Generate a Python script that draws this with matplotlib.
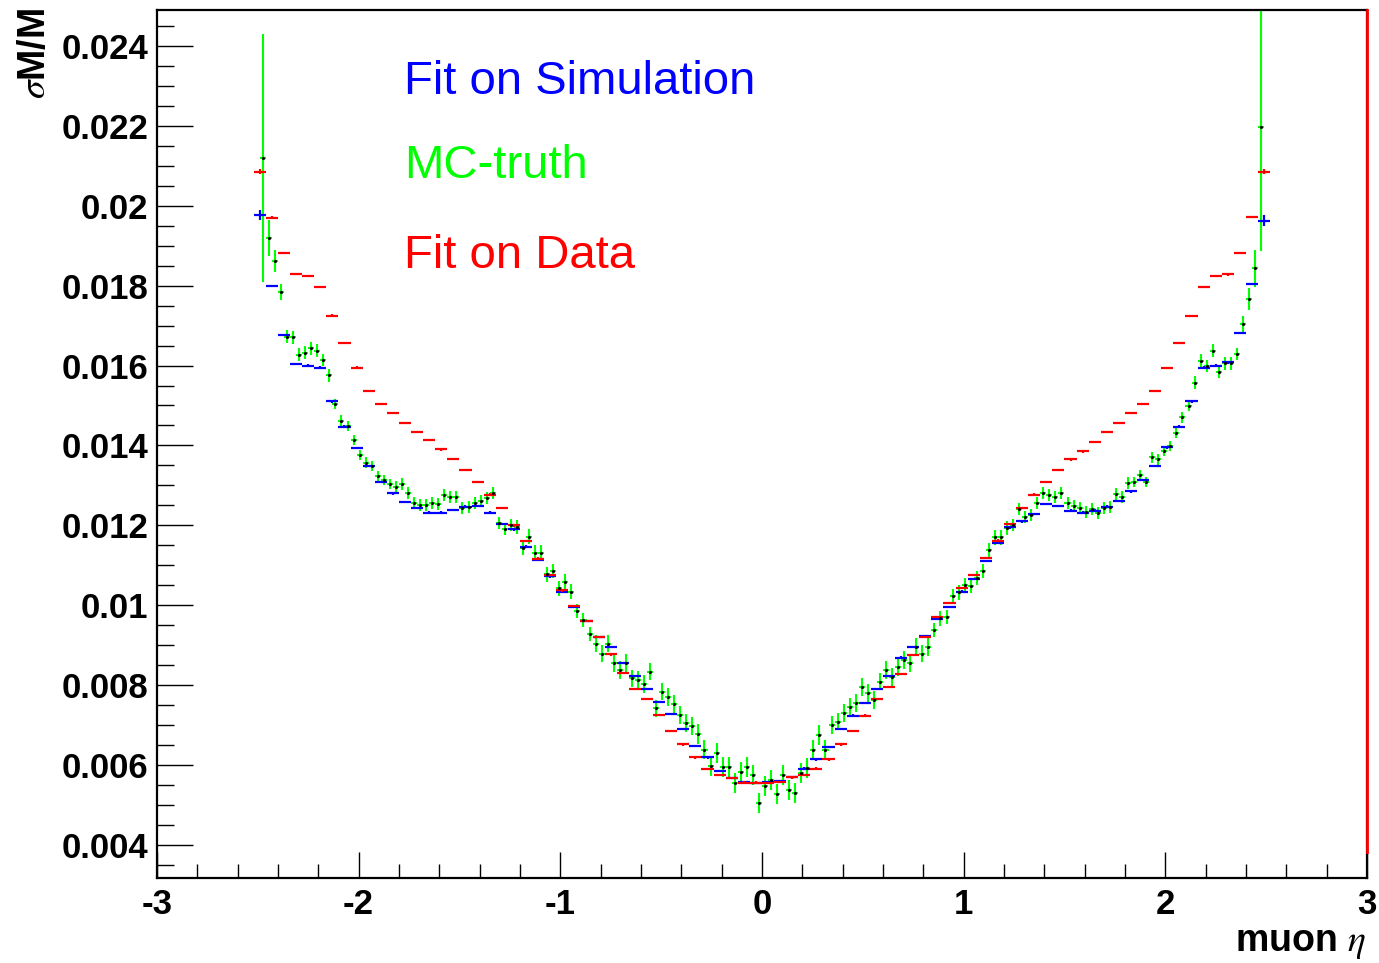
import numpy as np
import matplotlib.pyplot as plt
from matplotlib.ticker import MultipleLocator, FormatStrFormatter

plt.rcParams['font.family'] = ['Liberation Sans', 'DejaVu Sans']
plt.rcParams['mathtext.fontset'] = 'stix'
plt.rcParams['axes.unicode_minus'] = False

# coarse binning (84 bins, -2.52..2.52)
coarse_edges = np.linspace(-2.52, 2.52, 85)
# fit on data (red)
data_fit = [0.02085, 0.0197, 0.01881, 0.01829, 0.01824, 0.01796, 0.01725, 0.01657, 0.01595, 0.01537,
            0.01504, 0.01481, 0.01456, 0.01433, 0.01414, 0.0139, 0.01366, 0.01338, 0.01308, 0.01277,
            0.01243, 0.0120, 0.01161, 0.01117, 0.01076, 0.01037, 0.00998, 0.0096, 0.00921, 0.00877,
            0.0083, 0.0079, 0.00766, 0.00725, 0.00686, 0.00652, 0.00619, 0.0059, 0.00575, 0.00568,
            0.00556, 0.00556,
            0.00555, 0.00558, 0.00569, 0.00575, 0.00591, 0.00614, 0.00652, 0.00686, 0.00724, 0.00765,
            0.00795, 0.00828, 0.00876, 0.0092, 0.0097, 0.01005, 0.01043, 0.01076, 0.01119, 0.01162,
            0.01204, 0.01243, 0.01277, 0.01309, 0.01338, 0.01365, 0.01385, 0.01409, 0.01433, 0.01456,
            0.01481, 0.01504, 0.01537, 0.01594, 0.01656, 0.01724, 0.01796, 0.01824, 0.01828, 0.01881,
            0.01971, 0.02085]
data_err = [0.00006] + [0.00003] * 82 + [0.00006]
# fit on simulation (blue)
sim_fit = [0.01976, 0.01799, 0.01677, 0.01604, 0.016, 0.01595, 0.0151, 0.01447, 0.01394, 0.01349,
           0.01309, 0.0128, 0.01259, 0.01243, 0.01232, 0.01232, 0.01238, 0.01247, 0.01249, 0.01232,
           0.01204, 0.0119, 0.01147, 0.01113, 0.01072, 0.01034, 0.00996, 0.00961, 0.00921, 0.00896,
           0.00856, 0.00823, 0.0079, 0.00758, 0.00728, 0.0069, 0.00648, 0.00619, 0.00585, 0.00568,
           0.00557, 0.00555,
           0.00557, 0.0056, 0.00569, 0.00591, 0.00614, 0.00646, 0.0069, 0.00724, 0.00756, 0.0079,
           0.00823, 0.00869, 0.00896, 0.00923, 0.00965, 0.00995, 0.01034, 0.01066, 0.01111, 0.01157,
           0.01195, 0.0121, 0.01229, 0.01254, 0.01249, 0.01237, 0.01232, 0.01237, 0.01247, 0.01261,
           0.01285, 0.01314, 0.01349, 0.01395, 0.01447, 0.0151, 0.01595, 0.016, 0.01608, 0.01681,
           0.01804, 0.01962]
sim_err = [0.00013] + [0.00003] * 82 + [0.00014]

# fine binning (166 bins, -2.49..2.49): MC truth (green)
fine_edges = np.linspace(-2.49, 2.49, 167)
mc_left = [0.02119, 0.01919, 0.01862, 0.01785, 0.01672, 0.01671, 0.01627, 0.01632, 0.01643, 0.01637,
           0.01614, 0.01576, 0.01504, 0.01462, 0.01449, 0.01414, 0.01376, 0.01357, 0.01349, 0.01324,
           0.01314, 0.01304, 0.01295, 0.01304, 0.0128, 0.01255, 0.01251, 0.01251, 0.01257, 0.01254,
           0.01276, 0.01272, 0.0127, 0.01243, 0.01247, 0.01257, 0.01262, 0.01268, 0.01282, 0.01205,
           0.0119, 0.01201, 0.01196, 0.01143, 0.01172, 0.01132, 0.01132, 0.01077, 0.01086, 0.01042,
           0.01059, 0.01034, 0.00986, 0.00963, 0.00928, 0.00904, 0.00879, 0.00904, 0.00856, 0.00838,
           0.00856, 0.00817, 0.00813, 0.00803, 0.00834, 0.00742, 0.00784, 0.0077, 0.00753, 0.00725,
           0.00706, 0.00698, 0.00678, 0.00639, 0.00598, 0.00631, 0.00596, 0.00594, 0.00556, 0.00583,
           0.00596, 0.00575, 0.00504]
mc_right = [0.00548, 0.00563, 0.00528, 0.00575, 0.00538, 0.00529, 0.00579, 0.00592, 0.00638, 0.00675,
            0.00638, 0.007, 0.00709, 0.00731, 0.00746, 0.00756, 0.00796, 0.0078, 0.00763, 0.00809,
            0.00838, 0.00821, 0.00846, 0.00863, 0.00856, 0.00896, 0.00879, 0.00896, 0.00938, 0.00967,
            0.00971, 0.01023, 0.01032, 0.01051, 0.01048, 0.01068, 0.01086, 0.01138, 0.0117, 0.0117,
            0.01193, 0.01201, 0.0124, 0.01222, 0.01226, 0.01257, 0.01282, 0.01276, 0.01272, 0.01282,
            0.01257, 0.01249, 0.01243, 0.01234, 0.0124, 0.01232, 0.01243, 0.01247, 0.01279, 0.01272,
            0.01305, 0.01309, 0.01326, 0.01309, 0.0137, 0.01365, 0.01386, 0.01399, 0.01432, 0.0147,
            0.01499, 0.01557, 0.01612, 0.01599, 0.01637, 0.01585, 0.01606, 0.01606, 0.01629, 0.01704,
            0.01767, 0.01843, 0.02196]
# MC error vs. |eta| bin (centre outwards)
mc_err_half = ([0.00025] * 11 + [0.00022] * 17 + [0.00018] * 13 + [0.00015] * 20 + [0.00013] * 10
               + [0.00016] * 8 + [0.0002, 0.00028, 0.00046, 0.0031])

coarse_x = 0.5 * (coarse_edges[1:] + coarse_edges[:-1])
coarse_w = 0.5 * np.diff(coarse_edges)
fine_x = 0.5 * (fine_edges[1:] + fine_edges[:-1])
fine_w = 0.5 * np.diff(fine_edges)
mc_truth = mc_left + mc_right
mc_err = mc_err_half[::-1] + mc_err_half

fig = plt.figure(figsize=(13.79, 9.63), dpi=100)
ax = fig.add_axes([0.1138, 0.0883, 0.8775, 0.9014])

# MC truth first, fits on top
ax.errorbar(fine_x, mc_truth, xerr=fine_w, yerr=mc_err, fmt='.', color='black', ms=2.5,
            ecolor='#00ff00', elinewidth=1.5, capsize=0)
ax.errorbar(coarse_x, sim_fit, xerr=coarse_w, yerr=sim_err, fmt='none',
            ecolor='#0000ff', elinewidth=1.6, capsize=0)
ax.errorbar(coarse_x, data_fit, xerr=coarse_w, yerr=data_err, fmt='none',
            ecolor='#ff0000', elinewidth=1.6, capsize=0)

ax.axvline(3, ymin=0.03, ymax=1, color='red', lw=2, clip_on=False, zorder=5)

ax.set_xlim(-3, 3)
ax.set_ylim(0.003175, 0.0249)

ax.xaxis.set_major_locator(MultipleLocator(1))
ax.xaxis.set_minor_locator(MultipleLocator(0.2))
ax.yaxis.set_major_locator(MultipleLocator(0.002))
ax.yaxis.set_minor_locator(MultipleLocator(0.0005))
ax.yaxis.set_major_formatter(FormatStrFormatter('%g'))
ax.xaxis.set_major_formatter(FormatStrFormatter('%g'))

ax.tick_params(axis='both', which='both', direction='in', top=False, right=False, width=1, color='black')
ax.tick_params(axis='x', which='major', length=19, pad=7, labelsize=25)
ax.tick_params(axis='x', which='minor', length=10)
ax.tick_params(axis='y', which='major', length=26, pad=6, labelsize=25)
ax.tick_params(axis='y', which='minor', length=12)
for lab in ax.get_xticklabels() + ax.get_yticklabels():
    lab.set_fontweight('bold')

for s in ax.spines.values():
    s.set_linewidth(1.6)

fig.text(35 / 1379, 1 - 8 / 963, r'$\sigma$M/M', rotation=90, ha='center', va='top',
         fontsize=27, fontweight='bold')
fig.text(1366 / 1379, 1 - 943 / 963, r'muon $\eta$', ha='right', va='center',
         fontsize=27, fontweight='bold')

ax.text(0.204, 0.9171, 'Fit on Simulation', color='#0000ff', fontsize=34,
        transform=ax.transAxes, va='center', ha='left')
ax.text(0.204, 0.8203, 'MC-truth', color='#00ff00', fontsize=34,
        transform=ax.transAxes, va='center', ha='left')
ax.text(0.204, 0.7166, 'Fit on Data', color='#ff0000', fontsize=34,
        transform=ax.transAxes, va='center', ha='left')

fig.savefig('out.png', dpi=100)
